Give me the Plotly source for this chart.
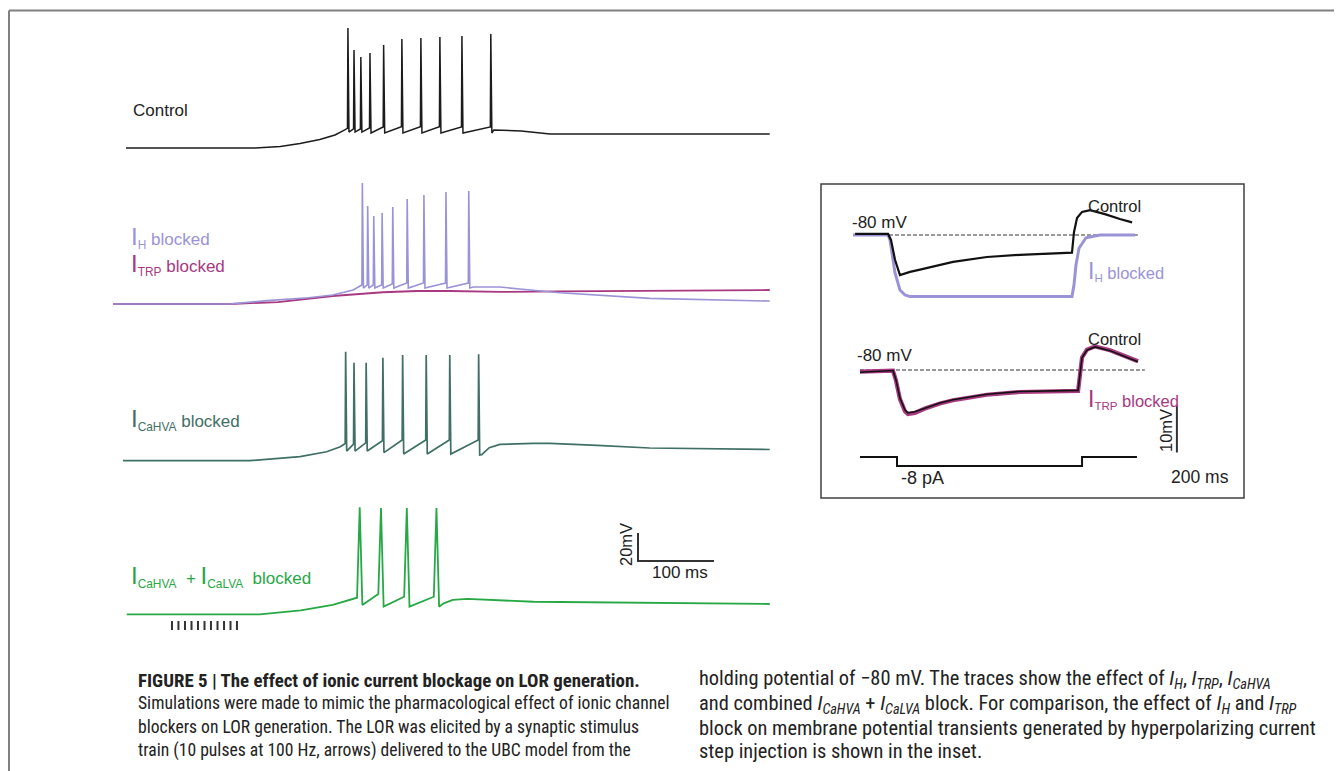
import plotly.graph_objects as go

# reference canvas, and the page offset of the plot div (body margin)
W, H = 1342, 771
OFF = 8
FW, FH = W - OFF, H - OFF

# ---------------- main panel: time (ms) / membrane potential (mV) ----------------
control_base_t = [0, 170, 203, 229, 255, 275, 286, 290]
control_base_v = [-80, -80, -78.9, -76.8, -73.9, -70.7, -67.6, -66.2]
control_spk_t = [292, 300, 309, 321, 339, 363, 388, 413, 442, 480]
control_spk_peak = [5.7, -10, -15, -12.1, -6.4, -2.1, -1.4, -0.7, 0, 1.4]
control_spk_pre = [-66, -66.4, -66.4, -65.7, -65, -64.8, -64.8, -64.8, -65, -65]
control_spk_trough = [-68.6, -68.6, -68.6, -69.3, -69.3, -69.3, -69.3, -69.3, -69.3, -69.3]
control_post_t = [484, 520, 558, 847]
control_post_v = [-67.1, -67.9, -70, -70]

ih_base_t = [-17, 137, 186, 240, 272, 299, 308]
ih_base_v = [-80, -80, -77.6, -75.5, -73.6, -70, -67.1]
ih_spk_t = [311, 318, 326, 337, 351, 370, 392, 421, 451]
ih_spk_peak = [6.4, -10, -17.1, -15, -10.7, -5, -2.1, 0, 0.7]
ih_spk_pre = [-66.4, -66.4, -66.4, -66.4, -65.7, -65, -65, -65, -65]
ih_spk_trough = [-68.6, -68.6, -68.6, -68.6, -68.6, -68.6, -68.6, -68.6, -68.6]
ih_post_t = [457, 492, 518, 571, 689, 847]
ih_post_v = [-67.9, -67.9, -69.3, -72, -76, -77.9]

trp_t = [-17, 137, 200, 272, 338, 383, 426, 492, 571, 700, 847]
trp_v = [-80, -80, -78.6, -74.3, -71.6, -70.7, -70.7, -71.4, -71, -70.5, -70]

cahva_base_t = [-4, 163, 229, 264, 282, 287]
cahva_base_v = [-79.8, -79.8, -76.9, -73.4, -69.8, -67.5]
cahva_spk_t = [289, 300, 316, 338, 364, 395, 426, 464]
cahva_spk_peak = [-1.9, -9.8, -9.8, -6.2, -4.3, -4.3, -4.3, -3.8]
cahva_spk_pre = [-67.5, -68, -67, -65.5, -65, -65, -65, -65]
cahva_spk_trough = [-72.9, -72.9, -72.9, -74, -75, -75, -75, -75.7]
cahva_post_t = [468, 478, 492, 536, 558, 620, 689, 847]
cahva_post_v = [-75.5, -70.5, -68.1, -67.4, -67.4, -68.8, -70.7, -71.8]

calva_t = [1, 176, 230, 272, 304, 307.5, 311, 332, 335.5, 339, 366, 369.5, 373,
           405, 408.5, 412, 418, 430, 449, 536, 847]
calva_v = [-79.9, -79.9, -77, -73.2, -68, -3.4, -73.2, -65.4, -3.9, -74.4, -67.3, -3.9, -74.4,
           -67.3, -3.9, -74.4, -72, -69.6, -68.9, -70.9, -72.5]

stim_times = [60.5, 69, 77.6, 86.2, 94.7, 103.3, 111.8, 120.4, 129, 137.5, 146]
stim_lo, stim_hi = -91.1, -84.6

bar_ms, bar_mv = 100, 20
bar_origin = (673.7, -41.8)

# ---------------- inset: time (ms) / mV, current (pA) ----------------
in_ctrl1_t = [-16, 92, 101.6, 114.8, 131, 164, 196.7, 305, 416, 524.6, 695, 701.6, 711.5, 728, 754, 803, 852, 892]
in_ctrl1_v = [-79.8, -79.8, -80.9, -84.5, -87.3, -86.7, -86.3, -84.9, -84, -83.6, -83.2, -79.5, -76.9, -75.8, -75.5, -76.2, -77.1, -77.7]

in_ih_t = [-23, 92, 98.4, 114.8, 131, 147.5, 164, 695, 701.6, 708, 718, 741, 787, 902]
in_ih_v = [-80, -80, -80.9, -86.9, -90, -90.9, -91.2, -91.2, -89.1, -85.5, -82.4, -80.5, -80, -80]

in_ctrl2_t = [0, 108, 118, 131, 147.5, 157, 180, 213, 262, 305, 416, 524.6, 715, 721, 728, 744, 770.5, 820, 869, 911.5]
in_ctrl2_v = [-80.4, -80.1, -81.8, -85.1, -87.3, -87.8, -87.6, -86.9, -86, -85.4, -84.4, -83.9, -83.7, -80.9, -77.8, -76.4, -75.8, -76.5, -77.6, -78.5]

in_trp_t = [0, 108, 118, 131, 147.5, 157, 180, 213, 262, 305, 416, 524.6, 715, 721, 728, 744, 770.5, 820, 869, 911.5]
in_trp_v = [-80.3, -80.1, -81.9, -85.3, -87.5, -88.0, -87.8, -87.0, -86.1, -85.5, -84.5, -84.0, -83.8, -80.9, -77.7, -76.3, -75.7, -76.4, -77.5, -78.4]

step_t = [0, 121.3, 121.3, 728, 728, 908]
step_pa = [0, 0, -8, -8, 0, 0]

rest_mv = -80
dash_top_t = [-23, 911]
dash_bot_t = [0, 934]

in_bar_ms, in_bar_mv = 200, 10
in_bar_origin = (1039, -96.5)

# ---------------- colours ----------------
C_CTRL = "#1c1c1c"
C_IH = "#9b93d8"
C_TRP = "#a8387f"
C_CAHVA = "#3f6f65"
C_CALVA = "#27a845"
C_TXT = "#222222"


def build(bt, bv, st, pre, peak, tr, pt, pv):
    t, v = list(bt), list(bv)
    for s, a, b, c in zip(st, pre, peak, tr):
        t += [s - 0.6, s, s + 1.4]
        v += [a, b, c]
    return t + list(pt), v + list(pv)


ctrl_t, ctrl_v = build(control_base_t, control_base_v, control_spk_t, control_spk_pre,
                       control_spk_peak, control_spk_trough, control_post_t, control_post_v)
ih_t, ih_v = build(ih_base_t, ih_base_v, ih_spk_t, ih_spk_pre, ih_spk_peak, ih_spk_trough,
                   ih_post_t, ih_post_v)
ca_t, ca_v = build(cahva_base_t, cahva_base_v, cahva_spk_t, cahva_spk_pre, cahva_spk_peak,
                   cahva_spk_trough, cahva_post_t, cahva_post_v)

# ---------------- layout geometry (pixels of the reference) ----------------
PX_PER_MS, PX_PER_MV, T0_PX = 0.76, 1.4, 126
IN_PX_PER_MS, IN_PX_PER_MV, IN_T0_PX = 0.305, 5.5, 860


def fx(px):
    return (px - OFF) / FW


def fy(py):
    return 1 - (py - OFF) / FH


def ydom(base_py, lo, hi, ppm):
    return [fy(base_py + (-80 - lo) * ppm), fy(base_py - (hi + 80) * ppm)]


main_xr = [-20, 850]
in_xr = [-25, 1250]

fig = go.Figure()


def add(x, y, color, width, xa, ya, dash=None):
    fig.add_trace(go.Scatter(x=x, y=y, mode="lines", xaxis=xa, yaxis=ya,
                             line=dict(color=color, width=width, dash=dash),
                             hoverinfo="skip", showlegend=False))


add(ctrl_t, ctrl_v, C_CTRL, 1.5, "x", "y")
add(trp_t, trp_v, C_TRP, 1.8, "x", "y2")
add(ih_t, ih_v, C_IH, 1.6, "x", "y2")
add(ca_t, ca_v, C_CAHVA, 1.7, "x", "y3")
add(calva_t, calva_v, C_CALVA, 1.8, "x", "y4")

sx, sy = [], []
for s in stim_times:
    sx += [s, s, None]
    sy += [stim_lo, stim_hi, None]
add(sx, sy, "#333333", 2, "x", "y4")

bx, by = bar_origin
add([bx, bx, bx + bar_ms], [by + bar_mv, by, by], "#333333", 2, "x", "y4")

# inset
add(dash_top_t, [rest_mv, rest_mv], "#333333", 1, "x2", "y5", dash="4px,2px")
add(in_ih_t, in_ih_v, C_IH, 3, "x2", "y5")
add(in_ctrl1_t, in_ctrl1_v, "#111111", 2.2, "x2", "y5")
add(dash_bot_t, [rest_mv, rest_mv], "#333333", 1, "x2", "y6", dash="4px,2px")
add(in_trp_t, in_trp_v, C_TRP, 4.2, "x2", "y6")
add(in_ctrl2_t, in_ctrl2_v, "#111111", 1.6, "x2", "y6")
ibx, iby = in_bar_origin
add([ibx, ibx, ibx + in_bar_ms], [iby + in_bar_mv, iby, iby], "#333333", 2, "x2", "y6")
add(step_t, step_pa, "#111111", 2, "x2", "y7")

hid = dict(visible=False, fixedrange=True)
fig.update_layout(
    width=FW, height=FH, margin=dict(l=0, r=0, t=0, b=0), autosize=False,
    paper_bgcolor="white", plot_bgcolor="white",
    xaxis=dict(hid, range=main_xr, domain=[fx(T0_PX + main_xr[0] * PX_PER_MS), fx(T0_PX + main_xr[1] * PX_PER_MS)], anchor="y"),
    yaxis=dict(hid, range=[-82, 8], domain=ydom(148, -82, 8, PX_PER_MV), anchor="x"),
    yaxis2=dict(hid, range=[-82, 8], domain=ydom(304, -82, 8, PX_PER_MV), anchor="x"),
    yaxis3=dict(hid, range=[-82, 8], domain=ydom(461, -82, 8, PX_PER_MV), anchor="x"),
    yaxis4=dict(hid, range=[-93, 8], domain=ydom(614.5, -93, 8, PX_PER_MV), anchor="x"),
    xaxis2=dict(hid, range=in_xr, domain=[fx(IN_T0_PX + in_xr[0] * IN_PX_PER_MS), fx(IN_T0_PX + in_xr[1] * IN_PX_PER_MS)], anchor="y5"),
    yaxis5=dict(hid, range=[-93, -74], domain=ydom(235, -93, -74, IN_PX_PER_MV), anchor="x2"),
    yaxis6=dict(hid, range=[-100, -74], domain=ydom(370, -100, -74, IN_PX_PER_MV), anchor="x2"),
    yaxis7=dict(hid, range=[-12, 4], domain=[fy(457 + 12 * 1.125), fy(457 - 4 * 1.125)], anchor="x2"),
)

SANS = "Liberation Sans, Arial, Helvetica, sans-serif"
NARROW = "Roboto Condensed, Liberation Sans Narrow, Arial Narrow, Roboto, sans-serif"

anns = []


def ann(text, px, py, color=C_TXT, size=17, xanchor="left", angle=0, family=SANS):
    anns.append(dict(text=text, x=fx(px), y=fy(py), xref="paper", yref="paper",
                     xanchor=xanchor, yanchor="middle", showarrow=False, textangle=angle,
                     font=dict(family=family, size=size, color=color)))


def big_i(sub, big=24):
    return '<span style="font-size:%dpx">I</span><sub>%s</sub>' % (big, sub)


ann("Control", 131, 110)
ann(big_i("H") + " blocked", 129, 238, C_IH)
ann(big_i("TRP") + " blocked", 129, 264, C_TRP)
ann(big_i("CaHVA") + " blocked", 129, 419, C_CAHVA)
ann(big_i("CaHVA") + "  + " + big_i("CaLVA") + "  blocked", 129, 576, C_CALVA)
ann("20mV", 626, 545, size=16.5, xanchor="center", angle=-90)
ann("100 ms", 680, 572, size=17, xanchor="center")

ann("-80 mV", 850, 222, size=17)
ann("Control", 1086, 206, size=16.5)
ann(big_i("H", 23) + " blocked", 1086, 271, C_IH, size=16.5)
ann("-80 mV", 855, 355, size=17)
ann("Control", 1086, 339, size=16.5)
ann(big_i("TRP", 23) + " blocked", 1086, 399, C_TRP, size=16.5)
ann("-8 pA", 899, 478, size=18)
ann("10mV", 1166, 431, size=16.5, xanchor="center", angle=-90)
ann("200 ms", 1200, 477, size=17.5, xanchor="center")

left_lines = [
    "<b>FIGURE 5 | The effect of ionic current blockage on LOR generation.</b>",
    "Simulations were made to mimic the pharmacological effect of ionic channel",
    "blockers on LOR generation. The LOR was elicited by a synaptic stimulus",
    "train (10 pulses at 100 Hz, arrows) delivered to the UBC model from the",
]
right_lines = [
    "holding potential of −80 mV. The traces show the effect of <i>I<sub>H</sub></i>, <i>I<sub>TRP</sub></i>, <i>I<sub>CaHVA</sub></i>",
    "and combined <i>I<sub>CaHVA</sub></i> + <i>I<sub>CaLVA</sub></i> block. For comparison, the effect of <i>I<sub>H</sub></i> and <i>I<sub>TRP</sub></i>",
    "block on membrane potential transients generated by hyperpolarizing current",
    "step injection is shown in the inset.",
]
left_py = [680, 703, 727, 750]
right_py = [678.5, 704, 727.5, 750.5]
left_sizes = [18.9, 17.6, 17.6, 17.6]
for txt, py, sz in zip(left_lines, left_py, left_sizes):
    ann(txt, 136, py, size=sz, family=NARROW)
for txt, py in zip(right_lines, right_py):
    ann(txt, 697, py, size=20.4, family=NARROW)

fig.update_layout(annotations=anns)

fig.update_layout(shapes=[
    dict(type="line", xref="paper", yref="paper", x0=fx(9), x1=1, y0=fy(10.5), y1=fy(10.5),
         line=dict(color="#808080", width=2)),
    dict(type="line", xref="paper", yref="paper", x0=fx(9), x1=fx(9), y0=fy(10.5), y1=0,
         line=dict(color="#808080", width=2)),
    dict(type="rect", xref="paper", yref="paper", x0=fx(821), x1=fx(1244), y0=fy(498), y1=fy(184),
         line=dict(color="#404040", width=1.5)),
])

fig.write_html("out.html")
